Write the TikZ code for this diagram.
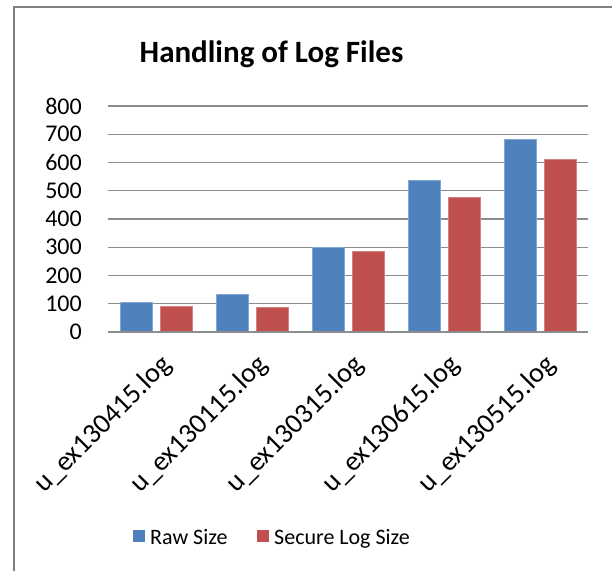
\documentclass[tikz,border=0pt]{standalone}
\usepackage{fontspec}
\setmainfont{Carlito}
\usetikzlibrary{positioning}

\definecolor{rawblue}{HTML}{4F81BD}
\definecolor{securered}{HTML}{C0504D}
\definecolor{gridgray}{HTML}{8C8C8C}
\definecolor{framegray}{HTML}{7F7F7F}

\tikzset{
    gridline/.style={gridgray, line width=1.3pt},
    rawbar/.style={fill=rawblue, draw=rawblue!70!white, line width=0.8pt},
    securebar/.style={fill=securered, draw=securered!70!white, line width=0.8pt},
    ticklabel/.style={anchor=east, inner sep=0pt, font={\fontsize{24}{28}\selectfont}},
    catlabel/.style={anchor=north east, rotate=45, inner sep=0pt, font={\fontsize{28}{32}\selectfont}},
    keybox/.style={minimum size=12pt, inner sep=0pt},
    keytext/.style={inner sep=0pt, font={\fontsize{22}{26}\selectfont}}
}

\begin{document}
\begin{tikzpicture}[x=1pt, y=-1pt]
    \useasboundingbox (0,0) rectangle (612,571);
    \draw[framegray, line width=2.3pt] (14,571) -- (14,7) -- (612,7);
    \node (title) at (271.5,54) {\fontsize{31}{37}\selectfont\bfseries Handling of Log Files};
    % value axis, 100 per 28.25 px
    \foreach \v in {0,100,...,800} {
        \draw[gridline] (108,{332-0.2825*\v}) -- (588,{332-0.2825*\v});
        \node[ticklabel] (tick\v) at (82,{332-0.2825*\v}) {\v};
    }
    % one pair of bars per log file
    \foreach \i/\raw/\sec/\file in {1/105/91/130415, 2/133/87/130115,
            3/301/287/130315, 4/538/478/130615, 5/682/610/130515} {
        \pgfmathsetmacro{\c}{60+96*\i}
        \draw[rawbar] ({\c-36},332) rectangle ({\c-4},{332-0.2825*\raw});
        \draw[securebar] ({\c+4},332) rectangle ({\c+36},{332-0.2825*\sec});
        \node[catlabel] (file\i) at ({\c+3},352) {u\_ex\file.log};
    }
    \draw[gridline] (108,332) -- (588,332);
    % legend
    \node[keybox, fill=rawblue] (rawkey) at (138.5,536) {};
    \node[keytext, anchor=base west] (rawtext) at (150,544) {Raw Size};
    \node[keybox, fill=securered] (seckey) at (262.5,536) {};
    \node[keytext, anchor=base west] (sectext) at (274,544) {Secure Log Size};
\end{tikzpicture}
\end{document}
